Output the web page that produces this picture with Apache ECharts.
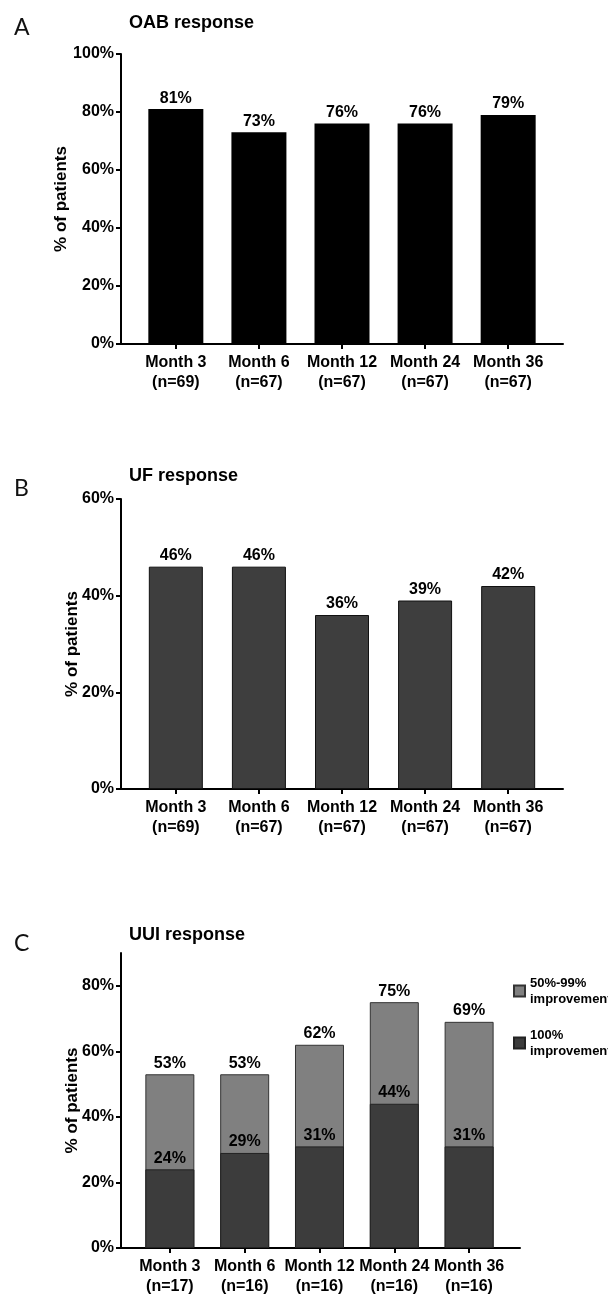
<!DOCTYPE html>
<html>
<head>
<meta charset="utf-8">
<script src="https://cdn.jsdelivr.net/npm/echarts@6/dist/echarts.min.js"></script>
<style>
html,body{margin:0;padding:0;background:#fff;}
#c{width:608px;height:1297px;}
</style>
</head>
<body>
<div id="c"></div>
<script>
// ---- data ----
const months = ['Month 3', 'Month 6', 'Month 12', 'Month 24', 'Month 36'];
const nAB = ['(n=69)', '(n=67)', '(n=67)', '(n=67)', '(n=67)'];
const nC = ['(n=17)', '(n=16)', '(n=16)', '(n=16)', '(n=16)'];
const oabResponse = [81, 73, 76, 76, 79];
const ufResponse = [46, 46, 36, 39, 42];
const uuiTotal = [53, 53, 62, 75, 69];      // 50%-99% + 100% improvement (top of stack)
const uuiFull = [24, 29, 31, 44, 31];       // 100% improvement
const ticksA = [0, 20, 40, 60, 80, 100];
const ticksB = [0, 20, 40, 60];
const ticksC = [0, 20, 40, 60, 80];
const legendNames = ['50%-99%\nimprovement', '100%\nimprovement'];

const idx = months.map((m, i) => i);
const pairs = arr => arr.map((v, i) => [i, v]);

const FONT = '"Liberation Sans", Arial, sans-serif';

function xAxisDef(gridIndex, ns, min, max) {
  return {
    type: 'value', gridIndex, min, max,
    splitLine: {show: false},
    axisLine: {show: true, onZero: false, lineStyle: {color: '#000', width: 2}},
    axisTick: {show: true, length: 5, lineStyle: {color: '#000', width: 2}, customValues: idx},
    axisLabel: {
      customValues: idx, margin: 9,
      formatter: v => months[Math.round(v)] + '\n' + ns[Math.round(v)],
      color: '#000', fontFamily: FONT, fontWeight: 'bold', fontSize: 16, lineHeight: 20
    }
  };
}
function yAxisDef(gridIndex, max, ticks, gap) {
  return {
    type: 'value', gridIndex, min: 0, max,
    name: '% of patients', nameLocation: 'middle', nameGap: gap, nameMoveOverlap: false,
    nameTextStyle: {color: '#000', fontFamily: FONT, fontWeight: 'bold', fontSize: 17},
    splitLine: {show: false},
    axisLine: {show: true, onZero: false, lineStyle: {color: '#000', width: 2}},
    axisTick: {show: true, length: 5, lineStyle: {color: '#000', width: 2}, customValues: ticks},
    axisLabel: {customValues: ticks, margin: 7, formatter: v => v + '%',
      color: '#000', fontFamily: FONT, fontWeight: 'bold', fontSize: 16}
  };
}
const barLabel = {
  show: true, position: 'top', distance: 3,
  color: '#000', fontFamily: FONT, fontWeight: 'bold', fontSize: 16,
  formatter: p => p.value[1] + '%'
};
const letterStyle = {fontFamily: 'Lato, "Open Sans", sans-serif', fontWeight: 'normal', fontSize: 23, color: '#111'};
const titleStyle = {fontFamily: FONT, fontWeight: 'bold', fontSize: 18, color: '#000'};

const chart = echarts.init(document.getElementById('c'), null, {renderer: 'canvas'});
chart.setOption({
  animation: false,
  backgroundColor: '#fff',
  title: [
    {text: 'A', left: 9, top: 11, textStyle: letterStyle},
    {text: 'B', left: 9, top: 472, textStyle: letterStyle},
    {text: 'C', left: 9, top: 927, textStyle: letterStyle},
    {text: 'OAB response', left: 124, top: 9, textStyle: titleStyle},
    {text: 'UF response', left: 124, top: 462, textStyle: titleStyle},
    {text: 'UUI response', left: 124, top: 921, textStyle: titleStyle}
  ],
  legend: {
    data: legendNames, orient: 'vertical', left: 508, top: 970,
    icon: 'rect', itemWidth: 11, itemHeight: 11, itemGap: 20,
    textStyle: {color: '#000', fontFamily: FONT, fontWeight: 'bold', fontSize: 13, lineHeight: 16}
  },
  grid: [
    {left: 121, top: 54, width: 442, height: 290},
    {left: 121, top: 499, width: 442, height: 290},
    {left: 121, top: 953, width: 399, height: 300}
  ],
  xAxis: [
    xAxisDef(0, nAB, -0.66, 4.66),
    xAxisDef(1, nAB, -0.66, 4.66),
    xAxisDef(2, nC, -0.653, 4.68)
  ],
  yAxis: [
    yAxisDef(0, 100, ticksA, 51),
    yAxisDef(1, 60, ticksB, 40),
    yAxisDef(2, 90, ticksC, 40)
  ],
  series: [
    {type: 'bar', xAxisIndex: 0, yAxisIndex: 0, data: pairs(oabResponse), barWidth: 55,
      itemStyle: {color: '#000'}, label: barLabel},
    {type: 'bar', xAxisIndex: 1, yAxisIndex: 1, data: pairs(ufResponse), barWidth: 54,
      itemStyle: {color: '#3e3e3e', borderColor: '#111', borderWidth: 1}, label: barLabel},
    {name: legendNames[0], type: 'bar', xAxisIndex: 2, yAxisIndex: 2, data: pairs(uuiTotal), barWidth: 49,
      barGap: '-100%', z: 2,
      itemStyle: {color: '#808080', borderColor: '#333', borderWidth: 1}, label: barLabel},
    {name: legendNames[1], type: 'bar', xAxisIndex: 2, yAxisIndex: 2, data: pairs(uuiFull), barWidth: 49,
      barGap: '-100%', z: 3,
      itemStyle: {color: '#3c3c3c', borderColor: '#222', borderWidth: 1}, label: barLabel}
  ]
});
</script>
</body>
</html>
